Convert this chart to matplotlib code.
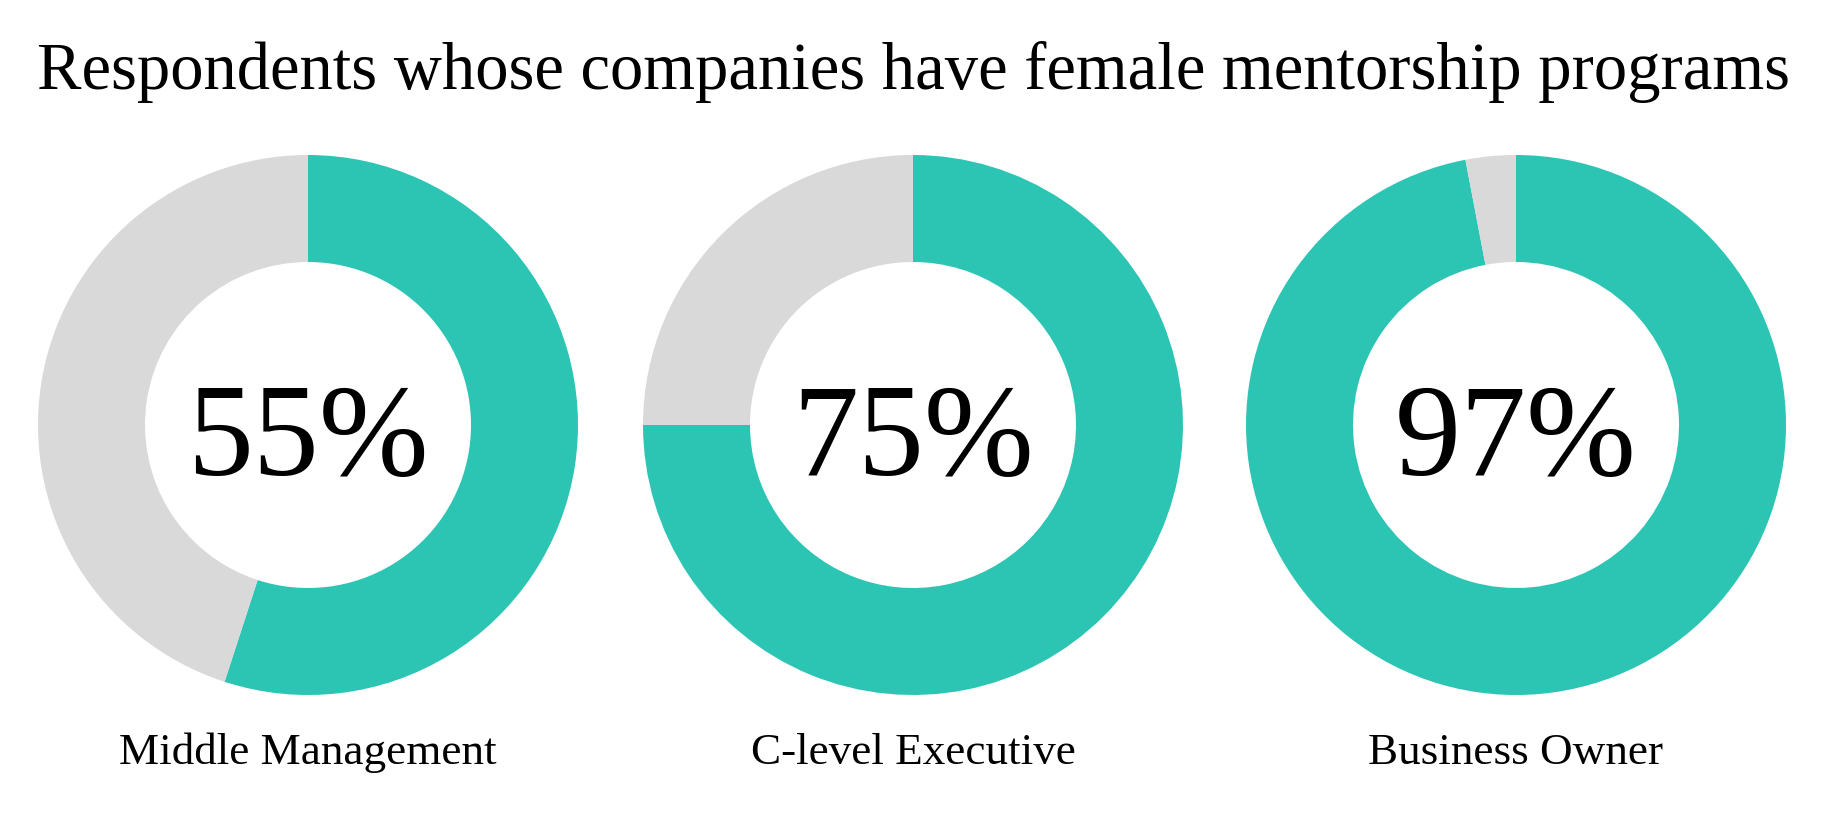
import matplotlib.pyplot as plt

# data
groups = ['Middle Management', 'C-level Executive', 'Business Owner']
share_yes = [55, 75, 97]

TEAL = '#2CC5B4'
GRAY = '#D9D9D9'
SERIF = ['Liberation Serif', 'DejaVu Serif']

W, H = 1826, 826
fig = plt.figure(figsize=(W / 100, H / 100), dpi=100)
ax = fig.add_axes([0, 0, 1, 1])

centers_x = [308, 913, 1516]
center_y = H - 425
r_out, r_in = 270, 163

for cx, label, val in zip(centers_x, groups, share_yes):
    ax.pie([val, 100 - val], colors=[TEAL, GRAY], startangle=90,
           counterclock=False, center=(cx, center_y), radius=r_out,
           wedgeprops=dict(width=r_out - r_in, linewidth=0))
    ax.text(cx, center_y - 18, f'{val}%', ha='center', va='center',
            fontsize=95, family=SERIF, color='black')
    ax.text(cx, H - 753, label, ha='center', va='center',
            fontsize=32.5, family=SERIF, color='black')

ax.text(W / 2, H - 72, 'Respondents whose companies have female mentorship programs',
        ha='center', va='center', fontsize=48, family=SERIF, color='black')

ax.set_xlim(0, W)
ax.set_ylim(0, H)
ax.set_aspect('equal')
ax.axis('off')

fig.savefig('out.png', dpi=100)
